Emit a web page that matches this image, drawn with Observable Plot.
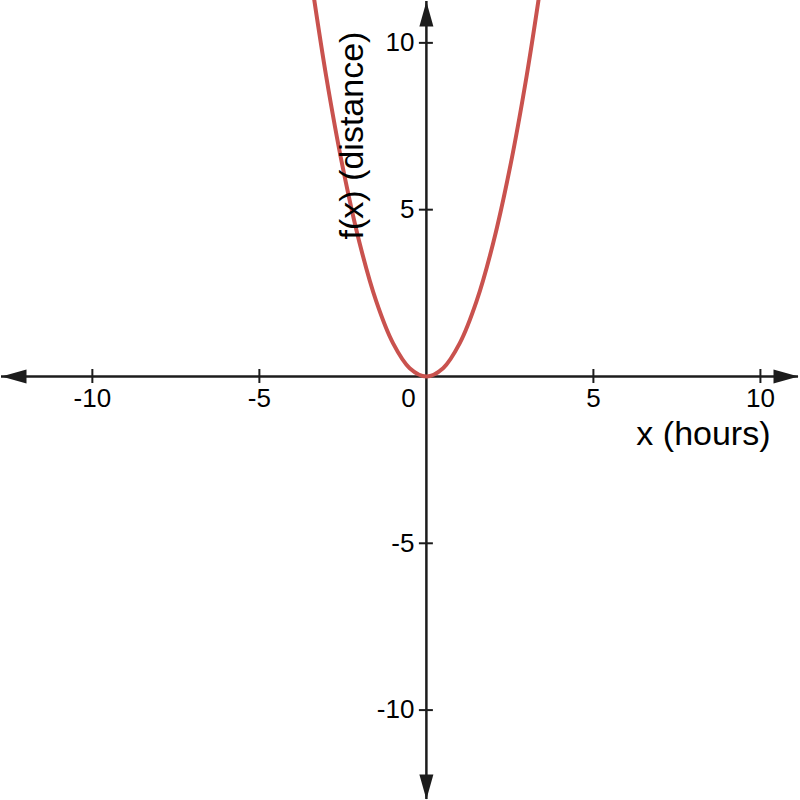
<!DOCTYPE html>
<html>
<head>
<meta charset="utf-8">
<script src="https://cdn.jsdelivr.net/npm/d3@7"></script>
<script src="https://cdn.jsdelivr.net/npm/@observablehq/plot@0.6"></script>
<style>
  html, body { margin: 0; padding: 0; background: #fff; }
  #chart svg { display: block; }
</style>
</head>
<body>
<div id="chart"></div>
<script>
// Data
const xDomain = [-12.75, 11.2];
const yDomain = [-12.71, 11.27];
const curveX = [-3.5, -3, -2.5, -2, -1.5, -1, -0.5, 0, 0.5, 1, 1.5, 2, 2.5, 3, 3.5];
const curveY = [12.25, 9, 6.25, 4, 2.25, 1, 0.25, 0, 0.25, 1, 2.25, 4, 6.25, 9, 12.25];
const xTicks = [-10, -5, 5, 10];
const yTicks = [-10, -5, 5, 10];
const originLabel = ["0"];
const xAxisEnds = [-12.72, 11.14];
const yAxisEnds = [-12.68, 11.24];
const xTitle = "x (hours)";
const yTitle = "f(x) (distance)";

const curve = curveX.map((x, i) => ({x, y: curveY[i]}));

const axisColor = "#1c1c1c";
const curveColor = "#c9524e";
const font = "Arial, 'Liberation Sans', sans-serif";

function arrow(dir) {
  const L = 25, W = 7;
  return {
    draw(ctx) {
      if (dir === "up") { ctx.moveTo(0, 0); ctx.lineTo(W, L); ctx.lineTo(-W, L); }
      else if (dir === "down") { ctx.moveTo(0, 0); ctx.lineTo(W, -L); ctx.lineTo(-W, -L); }
      else if (dir === "left") { ctx.moveTo(0, 0); ctx.lineTo(L, W); ctx.lineTo(L, -W); }
      else { ctx.moveTo(0, 0); ctx.lineTo(-L, W); ctx.lineTo(-L, -W); }
      ctx.closePath();
    }
  };
}

const chart = Plot.plot({
  width: 800,
  height: 800,
  margin: 0,
  style: {fontFamily: font, background: "#fff", overflow: "visible"},
  x: {domain: xDomain, axis: null},
  y: {domain: yDomain, axis: null},
  marks: [
    // axes lines
    Plot.ruleY([0], {x1: xAxisEnds[0], x2: xAxisEnds[1], stroke: axisColor, strokeWidth: 2.5}),
    Plot.ruleX([0], {y1: yAxisEnds[0], y2: yAxisEnds[1], stroke: axisColor, strokeWidth: 2.5}),
    // tick marks
    Plot.ruleX(xTicks, {x: d => d, y1: 0, y2: 0, insetTop: -7, insetBottom: -7, stroke: axisColor, strokeWidth: 2}),
    Plot.ruleY(yTicks, {y: d => d, x1: 0, x2: 0, insetLeft: -7, insetRight: -7, stroke: axisColor, strokeWidth: 2}),
    // arrowheads
    Plot.dot([xAxisEnds[0]], {x: d => d, y: 0, symbol: arrow("left"), fill: axisColor, stroke: "none"}),
    Plot.dot([xAxisEnds[1]], {x: d => d, y: 0, symbol: arrow("right"), fill: axisColor, stroke: "none"}),
    Plot.dot([yAxisEnds[1]], {x: 0, y: d => d, symbol: arrow("up"), fill: axisColor, stroke: "none"}),
    Plot.dot([yAxisEnds[0]], {x: 0, y: d => d, symbol: arrow("down"), fill: axisColor, stroke: "none"}),
    // tick labels
    Plot.text(xTicks, {x: d => d, y: 0, text: d => String(d), dy: 22, fontSize: 26, fill: "#000"}),
    Plot.text(yTicks, {x: 0, y: d => d, text: d => String(d), dx: -12, textAnchor: "end", fontSize: 26, fill: "#000"}),
    Plot.text(originLabel, {x: 0, y: 0, text: d => d, dx: -18, dy: 22, fontSize: 26, fill: "#000"}),
    // curve
    Plot.line(curve, {x: "x", y: "y", curve: "catmull-rom", stroke: curveColor, strokeWidth: 4, clip: true}),
    // axis titles
    Plot.text([xTitle], {y: 0, frameAnchor: "right", text: d => d, dx: -30, dy: 58, textAnchor: "end", fontSize: 34, fill: "#000"}),
    Plot.text([yTitle], {x: 0, frameAnchor: "top", text: d => d, dx: -88, dy: 135, rotate: -90, fontSize: 34, fill: "#000"})
  ]
});
document.getElementById("chart").appendChild(chart);
</script>
</body>
</html>
